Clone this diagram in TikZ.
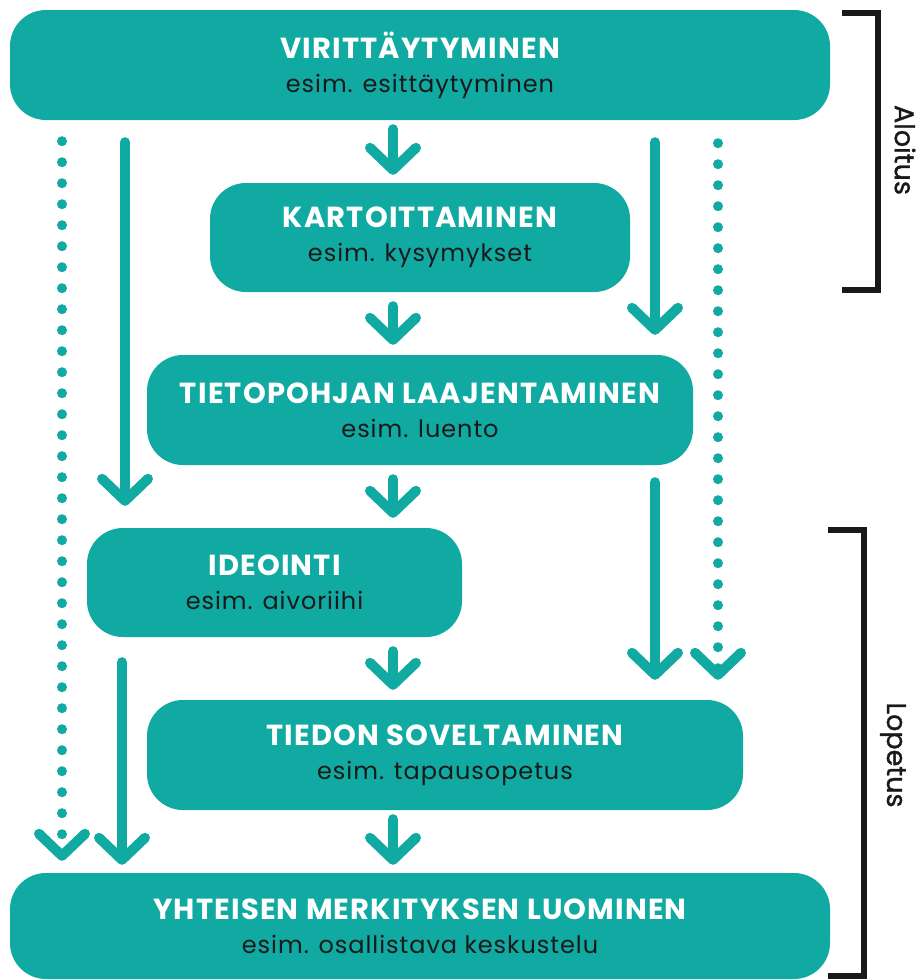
\documentclass[tikz,border=0pt]{standalone}
\usepackage{fontspec}
\setmainfont{Poppins}
\newfontfamily\subfont[LetterSpace=4]{Poppins}
\newfontfamily\ttlfont[LetterSpace=4]{Poppins}
\newfontfamily\sidefont[FakeBold=1.2]{Poppins}
\usetikzlibrary{arrows.meta,calc}
\definecolor{teal1}{RGB}{16,170,162}
\definecolor{dark1}{RGB}{25,25,25}
\tikzset{
  box/.style={fill=teal1, rounded corners=36pt, inner sep=0pt, align=center, font=\subfont\fontsize{24}{34}\selectfont, text=dark1},
  arr/.style={draw=teal1, line width=10pt, line cap=round, -{Straight Barb[round,length=22pt,width=46pt]}},
  dotarr/.style={draw=teal1, line width=10pt, line cap=round, dash pattern=on 0pt off 21pt, -{Straight Barb[round,length=22pt,width=46pt]}},
  brk/.style={draw=dark1, line width=6pt},
  side/.style={rotate=-90, font=\sidefont\fontsize{27}{30}\selectfont, text=dark1}
}
\newcommand{\ttl}[1]{\textcolor{white}{\ttlfont\fontsize{29}{34}\selectfont\bfseries #1}}
\begin{document}
\begin{tikzpicture}[x=1pt,y=-1pt]
\useasboundingbox (0,0) rectangle (922,980);
\node[box, minimum width=820pt, minimum height=110pt] (v) at (420,65) {\ttl{VIRITTÄYTYMINEN}\\esim. esittäytyminen};
\node[box, minimum width=420pt, minimum height=109pt] (k) at (420,237.5) {\ttl{KARTOITTAMINEN}\\esim. kysymykset};
\node[box, minimum width=546pt, minimum height=110pt] (t) at (420,410) {\ttl{TIETOPOHJAN LAAJENTAMINEN}\\esim. luento};
\node[box, minimum width=375pt, minimum height=109pt] (i) at (274.5,582.5) {\ttl{IDEOINTI}\\esim. aivoriihi};
\node[box, minimum width=596pt, minimum height=110pt] (s) at (445,755) {\ttl{TIEDON SOVELTAMINEN}\\esim. tapausopetus};
\node[box, minimum width=820pt, minimum height=106pt] (y) at (420,926) {\ttl{YHTEISEN MERKITYKSEN LUOMINEN}\\esim. osallistava keskustelu};

\coordinate (cx) at (393,0);
\draw[arr, shorten <=9pt, shorten >=8pt] (v.south -| cx) -- (k.north -| cx);
\draw[arr, shorten <=14pt, shorten >=10pt] (k.south -| cx) -- (t.north -| cx);
\draw[arr, shorten <=14pt, shorten >=10pt] (t.south -| cx) -- (i.north -| cx);
\draw[arr, shorten <=14pt, shorten >=10pt] (i.south -| cx) -- (s.north -| cx);
\draw[arr, shorten <=9pt, shorten >=8pt] (s.south -| cx) -- (y.north -| cx);

\coordinate (l1) at (125,0);
\coordinate (l2) at (122,0);
\coordinate (r1) at (655,0);
\coordinate (dl) at (62,0);
\coordinate (dr) at (718,0);
\draw[arr, shorten <=22pt, shorten >=22pt] (v.south -| l1) -- (i.north -| l1);
\draw[arr, shorten <=22pt, shorten >=20pt] (v.south -| r1) -- (t.north -| r1);
\draw[arr, shorten <=17pt, shorten >=20pt] (t.south -| r1) -- (s.north -| r1);
\draw[arr, shorten <=25pt, shorten >=8pt] (i.south -| l2) -- (y.north -| l2);
\draw[dotarr, shorten <=21pt, shorten >=12pt] (v.south -| dl) -- (y.north -| dl);
\draw[dotarr, shorten <=23pt, shorten >=20pt] (v.south -| dr) -- (s.north -| dr);

\coordinate (a1) at (842,13);
\coordinate (a2) at (878,13);
\coordinate (a3) at (878,290);
\coordinate (a4) at (842,290);
\draw[brk] (a1) -- (a2) -- (a3) -- (a4);
\node[side] (alo) at (905,150) {Aloitus};
\coordinate (b1) at (828,530);
\coordinate (b2) at (864,530);
\coordinate (b3) at (864,976);
\coordinate (b4) at (828,976);
\draw[brk] (b1) -- (b2) -- (b3) -- (b4);
\node[side] (lop) at (893,755) {Lopetus};
\end{tikzpicture}
\end{document}
